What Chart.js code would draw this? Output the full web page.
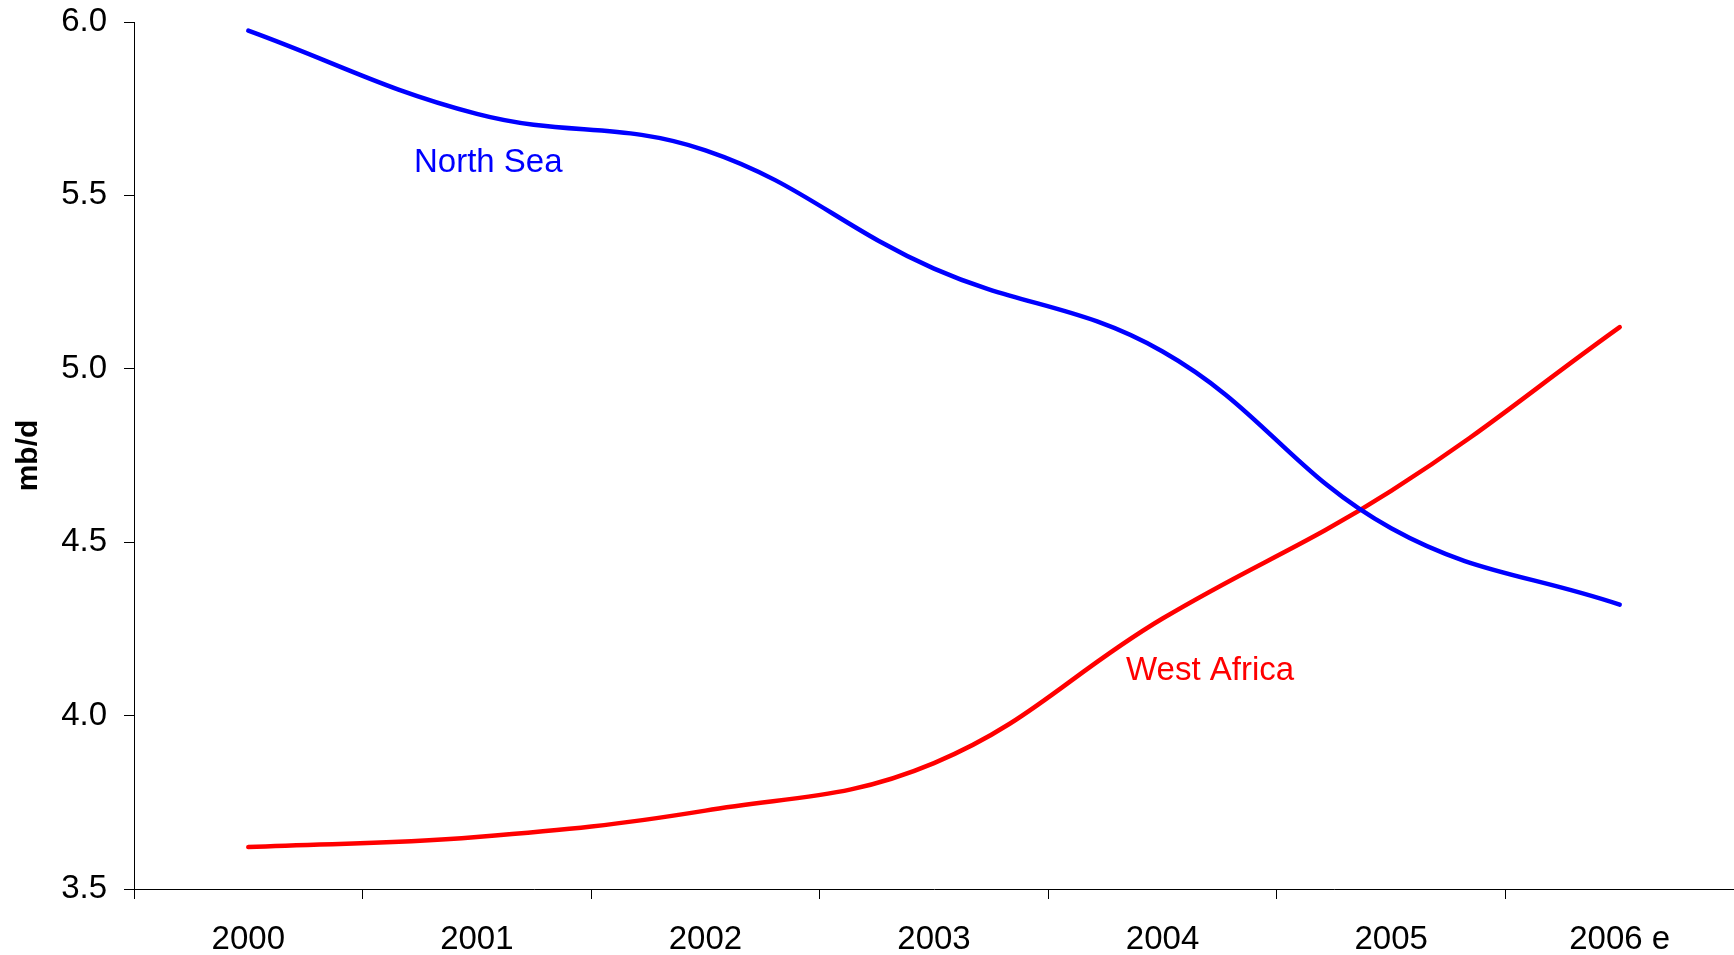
<!DOCTYPE html>
<html>
<head>
<meta charset="utf-8">
<script src="https://cdn.jsdelivr.net/npm/chart.js@4"></script>
<style>
  html, body { margin: 0; padding: 0; background: #fff; }
  #wrap { width: 1734px; height: 955px; position: relative; }
</style>
</head>
<body>
<div id="wrap"><canvas id="c"></canvas></div>
<script>
const categories = ['2000', '2001', '2002', '2003', '2004', '2005', '2006 e'];
const northSea = [5.975, 5.735, 5.63, 5.289, 5.05, 4.54, 4.32];
const westAfrica = [3.621, 3.65, 3.726, 3.863, 4.28, 4.648, 5.12];
const yTicks = [3.5, 4.0, 4.5, 5.0, 5.5, 6.0];
const yTitle = 'mb/d';

const FONT = "'Liberation Sans', Arial, sans-serif";

const seriesLabels = {
  id: 'seriesLabels',
  afterDatasetsDraw(chart, args, opts) {
    const ctx = chart.ctx;
    const xs = chart.scales.x, ys = chart.scales.y;
    ctx.save();
    ctx.font = '33px ' + FONT;
    ctx.textAlign = 'left';
    ctx.textBaseline = 'middle';
    opts.items.forEach(it => {
      ctx.fillStyle = it.color;
      ctx.fillText(it.text, xs.getPixelForValue(it.x), ys.getPixelForValue(it.y));
    });
    ctx.restore();
  }
};

new Chart(document.getElementById('c'), {
  type: 'line',
  data: {
    labels: categories,
    datasets: [
      { label: 'North Sea', data: northSea, borderColor: '#0000FF', borderWidth: 4.5, borderCapStyle: 'round', pointRadius: 0, tension: 0.4, fill: false },
      { label: 'West Africa', data: westAfrica, borderColor: '#FF0000', borderWidth: 4.5, borderCapStyle: 'round', pointRadius: 0, tension: 0.4, fill: false }
    ]
  },
  options: {
    responsive: true,
    maintainAspectRatio: false,
    animation: false,
    layout: { padding: { top: 22, right: 0, bottom: 0, left: 0 } },
    plugins: {
      legend: { display: false },
      tooltip: { enabled: false },
      seriesLabels: {
        items: [
          { text: 'North Sea', color: '#0000FF', x: 0.725, y: 5.595 },
          { text: 'West Africa', color: '#FF0000', x: 3.84, y: 4.13 }
        ]
      }
    },
    scales: {
      x: {
        type: 'category',
        offset: true,
        grid: { offset: true, drawOnChartArea: false, drawTicks: true, tickLength: 10, color: '#000', lineWidth: 1 },
        border: { display: true, color: '#000', width: 1 },
        ticks: { color: '#000', font: { family: FONT, size: 33 }, padding: 21, maxRotation: 0, autoSkip: false },
        afterFit(scale) { scale.height = 66; scale.paddingLeft = 0; scale.paddingRight = 0; }
      },
      y: {
        min: 3.5, max: 6.0,
        afterBuildTicks(scale) { scale.ticks = yTicks.map(v => ({ value: v })); },
        grid: { drawOnChartArea: false, drawTicks: true, tickLength: 10, color: '#000', lineWidth: 1 },
        border: { display: true, color: '#000', width: 1 },
        ticks: { color: '#000', font: { family: FONT, size: 33 }, padding: 17, callback: v => v.toFixed(1) },
        title: { display: true, text: yTitle, color: '#000', font: { family: FONT, size: 30, weight: 'bold' }, padding: { top: 11, bottom: 0 } },
        afterFit(scale) { scale.width = 134; scale.paddingTop = 0; scale.paddingBottom = 0; }
      }
    }
  },
  plugins: [seriesLabels]
});
</script>
</body>
</html>
